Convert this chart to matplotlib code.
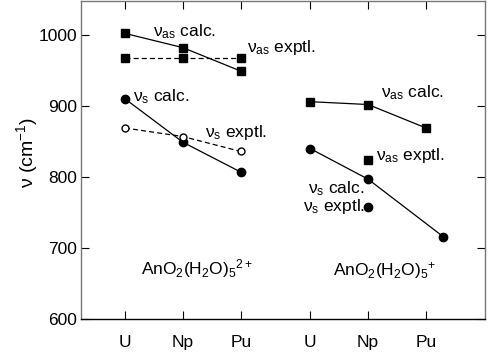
import matplotlib
matplotlib.use("Agg")
import matplotlib.pyplot as plt

plt.rcParams['font.family'] = ['Liberation Sans', 'DejaVu Sans']
plt.rcParams['mathtext.fontset'] = 'custom'
plt.rcParams['mathtext.rm'] = 'Liberation Sans'
plt.rcParams['mathtext.it'] = 'Liberation Sans:italic'

# posiciones de los actinidos (dos grupos)
x_left = [1, 2, 3]
x_right = [4.2, 5.2, 6.2]
tick_labels = ['U', 'Np', 'Pu', 'U', 'Np', 'Pu']

# AnO2(H2O)5 2+
vas_calc_2 = [1002, 982, 949]
vas_exp_2 = [968, 968, 968]
vs_calc_2 = [910, 849, 807]
vs_exp_2 = [869, 857, 836]

# AnO2(H2O)5 +
vas_calc_1 = [906, 902, 869]
vas_exp_1_x = [5.2]
vas_exp_1 = [824]
vs_calc_1_x = [4.2, 5.2, 6.5]
vs_calc_1 = [840, 797, 716]
vs_exp_1_x = [5.2]
vs_exp_1 = [758]

fig = plt.figure(figsize=(4.88, 3.53), dpi=100)
ax = fig.add_axes([0.166, 0.0955, 0.828, 0.9025])

k = 'black'
sq = 5.8
ax.plot(x_left, vas_calc_2, '-', color=k, lw=0.9, marker='s', ms=sq)
ax.plot(x_left, vas_exp_2, '--', color=k, lw=0.9, marker='s', ms=sq, dashes=(4, 2.5))
ax.plot(x_left, vs_calc_2, '-', color=k, lw=0.9, marker='o', ms=6)
ax.plot(x_left, vs_exp_2, '--', color=k, lw=0.9, marker='o', ms=5,
        mfc='white', mew=1, dashes=(4, 2.5))

ax.plot(x_right, vas_calc_1, '-', color=k, lw=0.9, marker='s', ms=sq)
ax.plot(vas_exp_1_x, vas_exp_1, ls='none', color=k, marker='s', ms=sq)
ax.plot(vs_calc_1_x, vs_calc_1, '-', color=k, lw=0.9, marker='o', ms=6)
ax.plot(vs_exp_1_x, vs_exp_1, ls='none', color=k, marker='o', ms=6)

fs = 12.5
ax.text(1.48, 997.5, r'ν$_{\rm as}$ calc.', fontsize=fs, va='baseline')
ax.text(3.10, 975.5, r'ν$_{\rm as}$ exptl.', fontsize=fs, va='baseline')
ax.text(1.14, 906.8, r'ν$_{\rm s}$ calc.', fontsize=fs, va='baseline')
ax.text(2.38, 856.3, r'ν$_{\rm s}$ exptl.', fontsize=fs, va='baseline')
ax.text(5.43, 911.5, r'ν$_{\rm as}$ calc.', fontsize=fs, va='baseline')
ax.text(5.34, 823.6, r'ν$_{\rm as}$ exptl.', fontsize=fs, va='baseline')
ax.text(5.14, 777, r'ν$_{\rm s}$ calc.', fontsize=fs, va='baseline', ha='right')
ax.text(5.14, 752, r'ν$_{\rm s}$ exptl.', fontsize=fs, va='baseline', ha='right')
ax.text(1.28, 663.7, r'AnO$_2$(H$_2$O)$_5$$^{2+}$', fontsize=fs, va='baseline')
ax.text(4.59, 662, r'AnO$_2$(H$_2$O)$_5$$^{+}$', fontsize=fs, va='baseline')

ax.set_xlim(0.24, 7.22)
ax.set_ylim(600, 1048)
ax.set_xticks(x_left + x_right)
ax.set_xticklabels(tick_labels)
ax.set_yticks([600, 700, 800, 900, 1000])
ax.tick_params(direction='in', top=True, right=True, length=6, width=0.8,
               labelsize=fs, colors='black')
ax.tick_params(axis='x', pad=11.5)
ax.tick_params(axis='y', pad=3)
for s in ['left', 'top', 'right']:
    ax.spines[s].set_color('#777777')
    ax.spines[s].set_linewidth(1.0)
ax.spines['bottom'].set_linewidth(1.0)

fig.text(27 / 488, 1 - 152 / 353, r'ν (cm$^{-1}$)', rotation=90, fontsize=14,
         ha='center', va='center')

fig.savefig('out.png', dpi=100)
